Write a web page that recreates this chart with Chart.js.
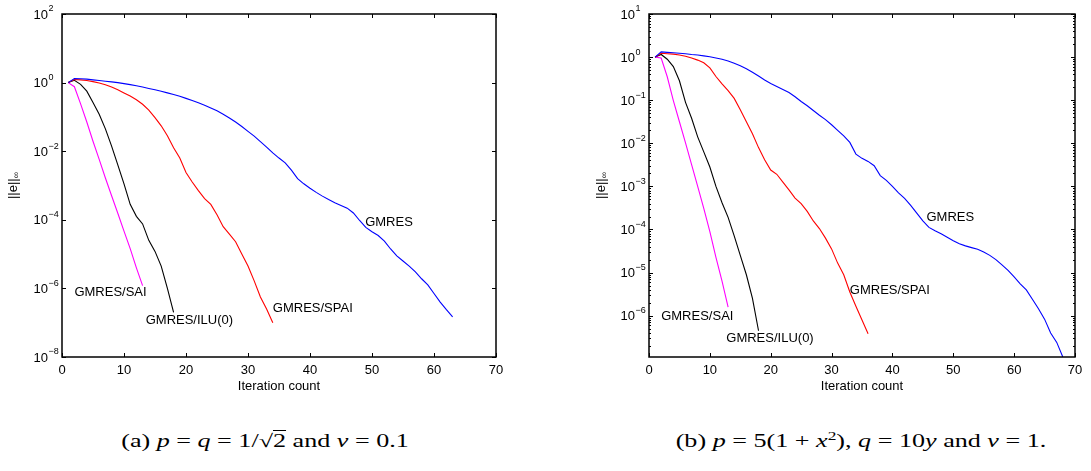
<!DOCTYPE html>
<html>
<head>
<meta charset="utf-8">
<script src="https://cdn.jsdelivr.net/npm/chart.js@4.4.0/dist/chart.umd.min.js"></script>
<style>
  html, body { margin: 0; padding: 0; background: #fff; }
  body { width: 1091px; height: 471px; position: relative; overflow: hidden; }
  .panel { position: absolute; top: 0; height: 400px; }
  #panelA { left: 0; width: 530px; }
  #panelB { left: 560px; width: 531px; }
  .cap {
    position: absolute; top: 430px; line-height: 22px; height: 22px;
    font-family: 'Liberation Serif', 'DejaVu Serif', serif; font-size: 18px;
    white-space: nowrap; transform: translateX(-50%) scaleX(1.45); color: #000;
  }
  .cap sup { font-size: 12px; line-height: 0; vertical-align: 7px; }
  .ov { text-decoration: overline; }
</style>
</head>
<body>
<div class="panel" id="panelA"><canvas id="chartA" width="530" height="400"></canvas></div>
<div class="panel" id="panelB"><canvas id="chartB" width="531" height="400"></canvas></div>
<div class="cap" style="left:265px">(a) <i>p</i> = <i>q</i> = 1/√<span class="ov">2</span> and <i>ν</i> = 0.1</div>
<div class="cap" style="left:861px">(b) <i>p</i> = 5(1 + <i>x</i><sup>2</sup>), <i>q</i> = 10<i>y</i> and <i>ν</i> = 1.</div>
<script>
const FONT = "'Liberation Sans', Arial, sans-serif";

// (a) 各反復 (1, 2, 3, ...) での ||e||∞
const gmresA = [1.0, 1.32, 1.29, 1.26, 1.20, 1.15, 1.10, 1.05, 1.0, 0.933,
  0.871, 0.813, 0.741, 0.676, 0.617, 0.562, 0.501, 0.447, 0.398, 0.347,
  0.302, 0.257, 0.219, 0.182, 0.151, 0.120, 0.0933, 0.0708, 0.0525, 0.0380,
  0.0275, 0.0191, 0.0132, 8.91e-3, 6.31e-3, 4.57e-3, 2.82e-3, 1.58e-3, 1.12e-3, 8.32e-4,
  6.31e-4, 4.90e-4, 3.89e-4, 3.16e-4, 2.63e-4, 2.19e-4, 1.58e-4, 9.55e-5, 6.03e-5, 4.47e-5,
  3.47e-5, 2.40e-5, 1.41e-5, 8.91e-6, 6.31e-6, 4.47e-6, 3.02e-6, 1.91e-6, 1.26e-6, 7.08e-7,
  3.98e-7, 2.40e-7, 1.48e-7];
const spaiA = [1.0, 1.23, 1.20, 1.15, 1.07, 0.977, 0.871, 0.741, 0.617, 0.501,
  0.407, 0.316, 0.234, 0.158, 0.0955, 0.0550, 0.0282, 0.0126, 6.31e-3, 2.40e-3,
  1.26e-3, 7.08e-4, 4.17e-4, 2.82e-4, 1.41e-4, 6.31e-5, 3.80e-5, 2.29e-5, 1.0e-5, 4.47e-6,
  1.66e-6, 5.62e-7, 2.51e-7, 1.0e-7];
const iluA = [1.0, 1.17, 0.891, 0.562, 0.263, 0.120, 0.0447, 0.0141, 3.98e-3, 1.12e-3,
  2.82e-4, 1.26e-4, 7.59e-5, 2.51e-5, 1.20e-5, 4.47e-6, 1.0e-6, 2.0e-7];
const saiA = [1.0, 0.759, 0.240, 0.0708, 0.0195, 5.75e-3, 1.66e-3, 5.01e-4, 1.55e-4, 4.68e-5,
  1.45e-5, 3.98e-6, 1.20e-6];

// (b)
const gmresB = [1.0, 1.32, 1.29, 1.26, 1.23, 1.20, 1.15, 1.12, 1.07, 1.02,
  0.955, 0.891, 0.813, 0.724, 0.631, 0.537, 0.447, 0.363, 0.295, 0.245,
  0.209, 0.178, 0.151, 0.120, 0.0933, 0.0741, 0.0575, 0.0447, 0.0355, 0.0269,
  0.0200, 0.0148, 0.0105, 5.62e-3, 4.47e-3, 3.80e-3, 3.02e-3, 1.78e-3, 1.38e-3, 1.0e-3,
  7.08e-4, 5.25e-4, 3.63e-4, 2.40e-4, 1.58e-4, 1.12e-4, 9.33e-5, 7.94e-5, 6.61e-5, 5.50e-5,
  4.68e-5, 4.17e-5, 3.80e-5, 3.47e-5, 3.02e-5, 2.51e-5, 2.0e-5, 1.51e-5, 1.12e-5, 7.94e-6,
  5.50e-6, 3.98e-6, 2.40e-6, 1.45e-6, 8.32e-7, 3.98e-7, 2.40e-7, 1.10e-7];
const spaiB = [1.0, 1.23, 1.20, 1.17, 1.12, 1.05, 0.955, 0.851, 0.741, 0.562,
  0.355, 0.240, 0.166, 0.110, 0.0603, 0.0316, 0.0166, 7.94e-3, 4.17e-3, 2.40e-3,
  1.91e-3, 1.26e-3, 8.32e-4, 5.37e-4, 3.98e-4, 2.63e-4, 1.58e-4, 1.05e-4, 6.31e-5, 3.55e-5,
  1.66e-5, 8.91e-6, 3.55e-6, 1.66e-6, 7.94e-7, 3.80e-7];
const iluB = [1.0, 1.15, 0.891, 0.603, 0.282, 0.0891, 0.0380, 0.0141, 6.31e-3, 2.82e-3,
  1.0e-3, 4.17e-4, 1.91e-4, 7.08e-5, 2.51e-5, 8.91e-6, 2.51e-6, 4.47e-7];
const saiB = [1.0, 0.955, 0.35, 0.098, 0.0316, 0.0102, 3.2e-3, 1.0e-3, 3.1e-4, 8.91e-5,
  2.24e-5, 6.31e-6, 1.58e-6];

// 目盛り
const xTicks = [0, 10, 20, 30, 40, 50, 60, 70];
const yExpA = [-8, -6, -4, -2, 0, 2];
const yExpB = [-6, -5, -4, -3, -2, -1, 0, 1];

// 曲線の注記
const notesA = [
  { text: 'GMRES', x: 48.9, y: 8.3e-5 },
  { text: 'GMRES/SPAI', x: 34.0, y: 2.6e-7 },
  { text: 'GMRES/SAI', x: 2.0, y: 7.4e-7 },
  { text: 'GMRES/ILU(0)', x: 13.5, y: 1.2e-7 }
];
const notesB = [
  { text: 'GMRES', x: 45.6, y: 1.86e-4 },
  { text: 'GMRES/SPAI', x: 33.0, y: 3.9e-6 },
  { text: 'GMRES/SAI', x: 2.0, y: 9.5e-7 },
  { text: 'GMRES/ILU(0)', x: 12.7, y: 2.95e-7 }
];

function toPoints(values) {
  return values.map((v, i) => ({ x: i + 1, y: v }));
}

function supText(e) {
  return e < 0 ? '\u2212' + Math.abs(e) : String(e);
}

// MATLAB 風の枠・内向き目盛り・10^k ラベル・注記
const matlabAxes = {
  id: 'matlabAxes',
  afterDatasetsDraw(chart, args, opts) {
    const { ctx, chartArea: a } = chart;
    const xs = chart.scales.x, ys = chart.scales.y;
    ctx.save();

    ctx.fillStyle = '#000';
    ctx.font = '13px ' + FONT;
    ctx.textAlign = 'left';
    ctx.textBaseline = 'middle';
    opts.notes.forEach(n => {
      ctx.fillText(n.text, xs.getPixelForValue(n.x), ys.getPixelForValue(n.y));
    });

    ctx.strokeStyle = '#000';
    ctx.lineWidth = 1;
    ctx.beginPath();
    xTicks.forEach(v => {
      const px = Math.round(xs.getPixelForValue(v)) + 0.5;
      ctx.moveTo(px, a.bottom); ctx.lineTo(px, a.bottom - 4);
      ctx.moveTo(px, a.top); ctx.lineTo(px, a.top + 4);
    });
    opts.yExp.forEach(e => {
      const py = Math.round(ys.getPixelForValue(Math.pow(10, e))) + 0.5;
      ctx.moveTo(a.left, py); ctx.lineTo(a.left + 4, py);
      ctx.moveTo(a.right, py); ctx.lineTo(a.right - 4, py);
    });
    if (opts.minor) {
      const lo = Math.floor(Math.log10(ys.min)), hi = Math.ceil(Math.log10(ys.max));
      for (let e = lo; e < hi; e++) {
        for (let m = 2; m <= 9; m++) {
          const v = m * Math.pow(10, e);
          if (v < ys.min || v > ys.max) continue;
          const py = Math.round(ys.getPixelForValue(v)) + 0.5;
          ctx.moveTo(a.left, py); ctx.lineTo(a.left + 2, py);
          ctx.moveTo(a.right, py); ctx.lineTo(a.right - 2, py);
        }
      }
    }
    ctx.stroke();

    ctx.lineWidth = 1.5;
    ctx.strokeRect(a.left, a.top, a.right - a.left, a.bottom - a.top);

    // y 目盛りラベル 10^k
    const baseX = a.left - 14;
    opts.yExp.forEach(e => {
      const py = ys.getPixelForValue(Math.pow(10, e));
      ctx.font = '13px ' + FONT;
      ctx.textAlign = 'right';
      ctx.textBaseline = 'middle';
      ctx.fillText('10', baseX, py + 1);
      ctx.font = '9px ' + FONT;
      ctx.textAlign = 'left';
      ctx.fillText(supText(e), baseX + 0.5, py - 5);
    });

    // y 軸タイトル ||e||∞
    ctx.translate(opts.titleX, (a.top + a.bottom) / 2);
    ctx.rotate(-Math.PI / 2);
    ctx.font = '13px ' + FONT;
    const w1 = ctx.measureText('||e||').width;
    ctx.font = '9px ' + FONT;
    const w2 = ctx.measureText('\u221e').width;
    ctx.textAlign = 'left';
    ctx.textBaseline = 'middle';
    ctx.font = '13px ' + FONT;
    ctx.fillText('||e||', -(w1 + w2) / 2, 0);
    ctx.font = '9px ' + FONT;
    ctx.fillText('\u221e', -(w1 + w2) / 2 + w1, 4);
    ctx.restore();
  }
};

function makeChart(id, series, cfg) {
  return new Chart(document.getElementById(id), {
    type: 'line',
    data: {
      datasets: series.map(s => ({
        label: s.label,
        data: toPoints(s.values),
        borderColor: s.color,
        borderWidth: 1.1,
        pointRadius: 0,
        fill: false,
        tension: 0
      }))
    },
    options: {
      responsive: false,
      animation: false,
      devicePixelRatio: 1,
      layout: { padding: { left: 0, top: 14, right: cfg.padRight, bottom: 0 } },
      plugins: {
        legend: { display: false },
        tooltip: { enabled: false },
        matlabAxes: { notes: cfg.notes, yExp: cfg.yExp, minor: cfg.minor, titleX: cfg.titleX }
      },
      scales: {
        x: {
          type: 'linear', min: 0, max: 70,
          grid: { display: false, drawTicks: false },
          border: { display: false },
          ticks: { stepSize: 10, padding: 6, color: '#000', font: { family: FONT, size: 13 } },
          title: {
            display: true, text: 'Iteration count', color: '#000',
            font: { family: FONT, size: 13 }, padding: { top: 0, bottom: 6 }
          },
          afterFit(scale) { scale.height = 43; }
        },
        y: {
          type: 'logarithmic', min: cfg.yMin, max: cfg.yMax,
          grid: { display: false, drawTicks: false },
          border: { display: false },
          ticks: { display: false },
          afterFit(scale) { scale.width = cfg.leftW; }
        }
      }
    },
    plugins: [matlabAxes]
  });
}

makeChart('chartA', [
  { label: 'GMRES', values: gmresA, color: '#0000ff' },
  { label: 'GMRES/SPAI', values: spaiA, color: '#ff0000' },
  { label: 'GMRES/ILU(0)', values: iluA, color: '#000000' },
  { label: 'GMRES/SAI', values: saiA, color: '#ff00ff' }
], { yMin: 1e-8, yMax: 1e2, yExp: yExpA, minor: false, notes: notesA, leftW: 62, padRight: 34, titleX: 13 });

makeChart('chartB', [
  { label: 'GMRES', values: gmresB, color: '#0000ff' },
  { label: 'GMRES/SPAI', values: spaiB, color: '#ff0000' },
  { label: 'GMRES/ILU(0)', values: iluB, color: '#000000' },
  { label: 'GMRES/SAI', values: saiB, color: '#ff00ff' }
], { yMin: 1.1e-7, yMax: 10, yExp: yExpB, minor: true, notes: notesB, leftW: 89, padRight: 16, titleX: 41 });
</script>
</body>
</html>
